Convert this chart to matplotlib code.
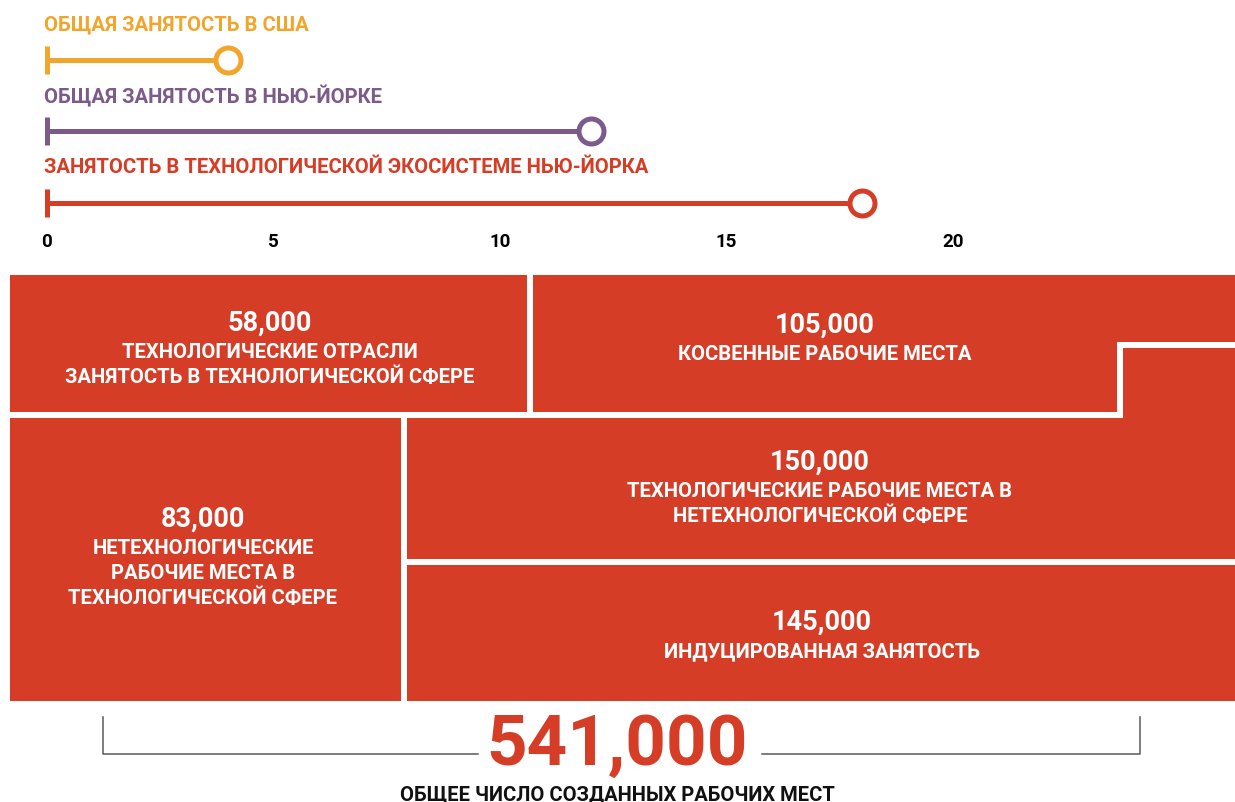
import matplotlib
matplotlib.use("Agg")
import matplotlib.pyplot as plt
from matplotlib.patches import Polygon

plt.rcParams['font.family'] = ['Roboto', 'DejaVu Sans']

# --- data ---
growth_labels = ["ОБЩАЯ ЗАНЯТОСТЬ В США",
                 "ОБЩАЯ ЗАНЯТОСТЬ В НЬЮ-ЙОРКЕ",
                 "ЗАНЯТОСТЬ В ТЕХНОЛОГИЧЕСКОЙ ЭКОСИСТЕМЕ НЬЮ-ЙОРКА"]
growth_values = [4.0, 12.0, 18.0]
growth_colors = ["#F2A52B", "#7D5A8C", "#D53D27"]
growth_ticks = [0, 5, 10, 15, 20]

job_values = [58000, 105000, 83000, 150000, 145000]
job_labels = [["ТЕХНОЛОГИЧЕСКИЕ ОТРАСЛИ", "ЗАНЯТОСТЬ В ТЕХНОЛОГИЧЕСКОЙ СФЕРЕ"],
              ["КОСВЕННЫЕ РАБОЧИЕ МЕСТА"],
              ["НЕТЕХНОЛОГИЧЕСКИЕ", "РАБОЧИЕ МЕСТА В", "ТЕХНОЛОГИЧЕСКОЙ СФЕРЕ"],
              ["ТЕХНОЛОГИЧЕСКИЕ РАБОЧИЕ МЕСТА В", "НЕТЕХНОЛОГИЧЕСКОЙ СФЕРЕ"],
              ["ИНДУЦИРОВАННАЯ ЗАНЯТОСТЬ"]]
total_label = "ОБЩЕЕ ЧИСЛО СОЗДАННЫХ РАБОЧИХ МЕСТ"

RED = "#D53D27"
W, H = 1235, 803
fig = plt.figure(figsize=(W / 100, H / 100), dpi=100)

# --- top: dumbbell lines ---
ax = fig.add_axes([47 / W, 1 - 230 / H, 906 / W, (230 - 25) / H])
for i, (lab, val, col) in enumerate(zip(growth_labels, growth_values, growth_colors)):
    ax.plot([0, val], [i, i], color=col, lw=3.6, solid_capstyle='butt', clip_on=False)
    ax.plot([0], [i], marker='|', ms=20, mew=3.6, color=col, clip_on=False)
    ax.plot([val], [i], marker='o', ms=18, mew=3.6, mfc='white', mec=col,
            clip_on=False, zorder=3)
    ax.annotate(lab, xy=(0, i), xytext=(-2.5, 26), textcoords='offset points',
                ha='left', va='center', color=col, fontsize=14.6, fontweight='bold')
ax.set_xlim(0, 20)
ax.set_ylim(2.37, -0.5)
ax.set_xticks(growth_ticks)
ax.set_xticklabels([str(t) for t in growth_ticks], fontsize=13.5, fontweight='bold')
ax.tick_params(axis='x', length=0, pad=2)
ax.set_yticks([])
for s in ax.spines.values():
    s.set_visible(False)

# --- bottom: block layout in pixel space ---
bx = fig.add_axes([0, 0, 1, 1])
bx.set_xlim(0, W)
bx.set_ylim(H, 0)
bx.axis('off')

L, R, T, B = 7, 1238, 273, 705
row_y, col_top, col_bot, row_bot = 416, 530, 404, 563
step_x, step_y = 1120, 346
shapes = [
    [(L, T), (col_top, T), (col_top, row_y), (L, row_y)],
    [(col_top, T), (R, T), (R, step_y), (step_x, step_y), (step_x, row_y), (col_top, row_y)],
    [(L, row_y), (col_bot, row_y), (col_bot, B), (L, B)],
    [(col_bot, row_y), (step_x, row_y), (step_x, step_y), (R, step_y), (R, row_bot), (col_bot, row_bot)],
    [(col_bot, row_bot), (R, row_bot), (R, B), (col_bot, B)],
]
# text anchor (center x, number y)
anchors = [(270, 323), (825, 325), (203, 519), (820, 462), (822, 622)]

for pts, val, lines, (tx, ty) in zip(shapes, job_values, job_labels, anchors):
    bx.add_patch(Polygon(pts, closed=True, facecolor=RED, edgecolor='white',
                         lw=4.3, joinstyle='miter'))
    bx.text(tx, ty, f"{val:,}", ha='center', va='center', color='white',
            fontsize=19.5, fontweight='bold')
    for k, line in enumerate(lines):
        bx.text(tx, ty + 30 + 24.5 * k, line, ha='center', va='center',
                color='white', fontsize=14.6, fontweight='bold')

# total bracket
gray = "#5a5a5a"
bx.plot([103, 103, 478], [718, 755, 755], color=gray, lw=1.1)
bx.plot([762, 1140, 1140], [755, 755, 718], color=gray, lw=1.1)
bx.text(617, 745, f"{sum(job_values):,}", ha='center', va='center', color=RED,
        fontsize=51, fontweight='bold')
bx.text(617, 795, total_label, ha='center', va='center', color='#111111',
        fontsize=14.5, fontweight='bold')

fig.savefig("out.png", dpi=100)
